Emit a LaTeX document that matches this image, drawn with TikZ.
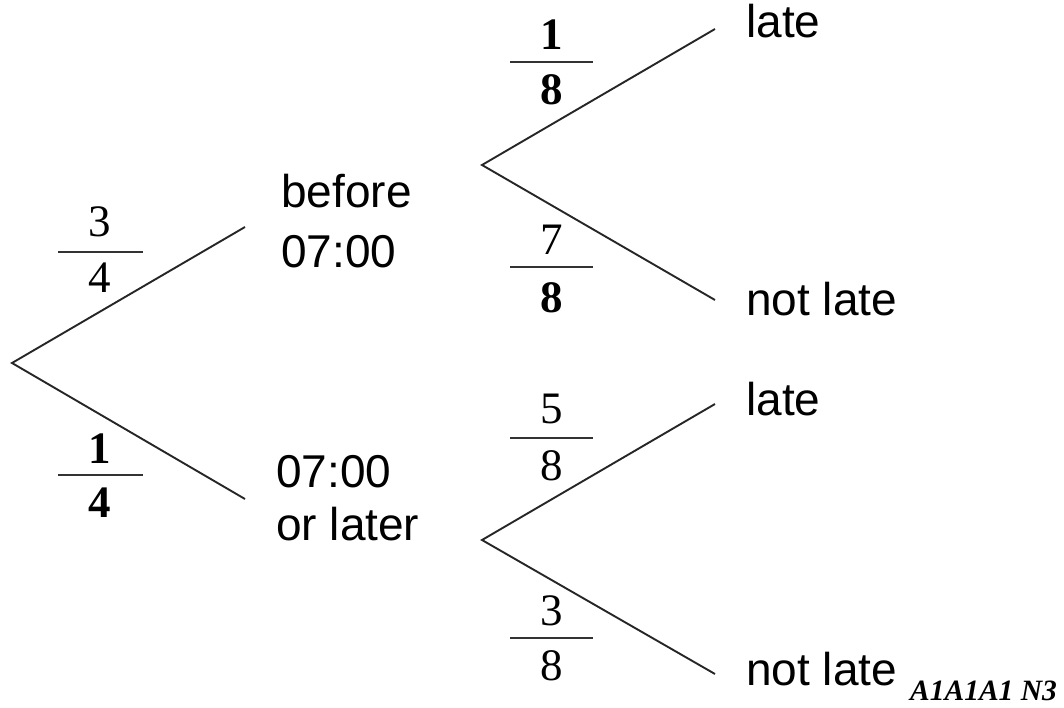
\documentclass[tikz,border=0pt]{standalone}
\usepackage{fontspec}
\setmainfont{Liberation Serif}
\newfontfamily\labfont{Liberation Sans}
\newfontfamily\numfont{Liberation Serif}
\tikzset{
  branch/.style={line width=1.9pt, black!85},
  fbar/.style={line width=2.2pt, black!80},
  lab/.style={anchor=base west, inner sep=0pt, font=\labfont\fontsize{46}{60}\selectfont},
  num/.style={anchor=base, inner sep=0pt, font=\numfont\fontsize{45}{50}\selectfont},
  bnum/.style={num, font=\numfont\bfseries\fontsize{45}{50}\selectfont},
  marktext/.style={anchor=base west, inner sep=0pt, font=\numfont\bfseries\itshape\fontsize{29.5}{34}\selectfont}
}
\begin{document}
\begin{tikzpicture}[x=1pt,y=-1pt]
\useasboundingbox (0,0) rectangle (1064,708);
% tree points
\coordinate (root) at (12,363);
\coordinate (u1) at (245,227);
\coordinate (l1) at (245,499);
\coordinate (v1) at (482,165);
\coordinate (v1u) at (715,29);
\coordinate (v1l) at (715,300);
\coordinate (v2) at (482,540);
\coordinate (v2u) at (715,404);
\coordinate (v2l) at (715,674);
\draw[branch] (u1) -- (root) -- (l1);
\draw[branch] (v1u) -- (v1) -- (v1l);
\draw[branch] (v2u) -- (v2) -- (v2l);
% labels
\node[lab] (before) at (281,208) {before};
\node[lab] (t1) at (281,268) {07:00};
\node[lab] (t2) at (276,487) {07:00};
\node[lab] (orlater) at (276,540) {or later};
\node[lab] (late1) at (746,38) {late};
\node[lab] (notlate1) at (746,315) {not late};
\node[lab] (late2) at (746,415) {late};
\node[lab] (notlate2) at (746,685) {not late};
\node[marktext] (marks) at (910,700) {A1A1A1 N3};
% fractions
\node[num] (n34) at (100,237) {3};
\draw[fbar] (58,252) -- (143,252);
\node[num] (d34) at (100,293) {4};
\node[bnum] (n14) at (100,463) {1};
\draw[fbar] (58,475) -- (143,475);
\node[bnum] (d14) at (100,517) {4};
\node[bnum] (n18) at (552,50) {1};
\draw[fbar] (510,62) -- (593,62);
\node[bnum] (d18) at (552,105) {8};
\node[num] (n78) at (552,255) {7};
\draw[fbar] (510,267) -- (593,267);
\node[bnum] (d78) at (552,312) {8};
\node[num] (n58) at (552,423) {5};
\draw[fbar] (510,438) -- (593,438);
\node[num] (d58) at (552,480) {8};
\node[num] (n38) at (552,625) {3};
\draw[fbar] (510,638) -- (593,638);
\node[num] (d38) at (552,680) {8};
\end{tikzpicture}
\end{document}
